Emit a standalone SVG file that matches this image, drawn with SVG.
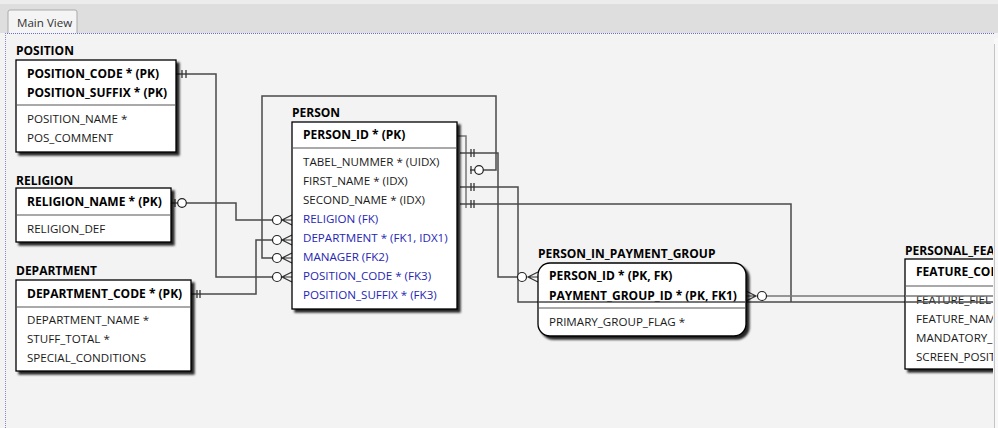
<svg xmlns="http://www.w3.org/2000/svg" width="998" height="428" viewBox="0 0 998 428">
<style>
text{font-family:"Open Sans","Noto Sans","DejaVu Sans",sans-serif;font-size:11.6px;fill:#1a1a1a}
.t{font-weight:bold;fill:#000;font-size:12px}
.k{font-weight:bold;fill:#000;font-size:12px}
.fk{fill:#2626b4}
.box{fill:#fff;stroke:#000;stroke-width:1.3}
.sep{stroke:#555;stroke-width:1.2}
.ln{fill:none;stroke:#4a4a4a;stroke-width:1.5}
.ln2{fill:none;stroke:#777;stroke-width:1.5}
.bar{stroke:#333;stroke-width:1.3}
.cir{fill:#fff;stroke:#222;stroke-width:1.2}
</style>
<defs>
<filter id="sh" x="-10%" y="-10%" width="130%" height="130%">
<feDropShadow dx="3" dy="3" stdDeviation="1.2" flood-color="#000" flood-opacity="0.85"/>
</filter>
<clipPath id="vis"><rect x="0" y="0" width="993" height="428"/></clipPath>
</defs>
<rect width="998" height="428" fill="#f3f3f3"/>
<rect width="998" height="33" fill="#dedede"/>
<rect width="998" height="4" fill="#ececec"/>
<path d="M8 33 V12 Q8 10 10 10 H75 Q77 10 77 12 V33" fill="#f4f4f4" stroke="#aaa"/>
<text x="17" y="27" style="fill:#333">Main View</text>
<line x1="5" y1="33.5" x2="995" y2="33.5" stroke="#6f6fc8" stroke-dasharray="1 1"/>
<line x1="5.5" y1="33" x2="5.5" y2="428" stroke="#8a8ab8" stroke-dasharray="1 1"/>
<rect x="994" y="38" width="4" height="390" fill="#f8f8f8"/>
<line x1="994.5" y1="44" x2="994.5" y2="428" stroke="#c4c4c4"/>

<g id="connectors">
<path class="ln" d="M176 74 H216 V277 H282"/>
<path class="ln" d="M171 203 H236 V220 H282"/>
<path class="ln" d="M191 294 H256 V240 H282"/>
<path class="ln" d="M470 170 H496 V96 H262 V258 H282"/>
<path class="ln2" d="M457 136 H466 V208"/>
<path class="ln" d="M460 153 H498 V277 H527"/>
<path class="ln" d="M460 187 H518 V302 H993"/>
<path class="ln" d="M460 204 H791 V302"/>
<path class="ln2" d="M766 296 H993"/>
<line class="bar" x1="182" y1="70" x2="182" y2="78"/><line class="bar" x1="186" y1="70" x2="186" y2="78"/>
<line class="bar" x1="175" y1="199" x2="175" y2="207"/><circle class="cir" cx="182" cy="203" r="4.3"/>
<line class="bar" x1="197" y1="290" x2="197" y2="298"/><line class="bar" x1="200" y1="290" x2="200" y2="298"/>
<line class="bar" x1="471" y1="149" x2="471" y2="157"/><line class="bar" x1="474" y1="149" x2="474" y2="157"/>
<line class="bar" x1="471" y1="166" x2="471" y2="174"/><circle class="cir" cx="479" cy="170" r="4.3"/>
<line class="bar" x1="471" y1="183" x2="471" y2="191"/><line class="bar" x1="474" y1="183" x2="474" y2="191"/>
<line class="bar" x1="471" y1="200" x2="471" y2="208"/><line class="bar" x1="474" y1="200" x2="474" y2="208"/>
<g fill="none" stroke="#333" stroke-width="1.2">
<circle class="cir" cx="277" cy="220" r="4.5"/><path d="M292 215 L282 220 L292 225 M282 220 H292"/>
<circle class="cir" cx="277" cy="240" r="4.5"/><path d="M292 235 L282 240 L292 245 M282 240 H292"/>
<circle class="cir" cx="277" cy="258" r="4.5"/><path d="M292 253 L282 258 L292 263 M282 258 H292"/>
<circle class="cir" cx="277" cy="277" r="4.5"/><path d="M292 272 L282 277 L292 282 M282 277 H292"/>
<circle class="cir" cx="522" cy="277" r="4.5"/><path d="M538 272 L528 277 L538 282 M528 277 H538"/>
<path d="M746 291 L756 296 L746 301 M746 296 H756"/><circle class="cir" cx="762" cy="296" r="4.5"/>
</g>
</g>

<g id="position">
<text class="t" x="16" y="55">POSITION</text>
<rect class="box" x="16" y="60" width="160" height="92" filter="url(#sh)"/>
<line class="sep" x1="16" y1="105" x2="176" y2="105"/>
<text class="k" x="27" y="78">POSITION_CODE * (PK)</text>
<text class="k" x="27" y="97">POSITION_SUFFIX * (PK)</text>
<text x="27" y="123">POSITION_NAME *</text>
<text x="27" y="142">POS_COMMENT</text>
</g>

<g id="religion">
<text class="t" x="16" y="185">RELIGION</text>
<rect class="box" x="16" y="188" width="155" height="54" filter="url(#sh)"/>
<line class="sep" x1="16" y1="215" x2="171" y2="215"/>
<text class="k" x="27" y="206">RELIGION_NAME * (PK)</text>
<text x="27" y="233">RELIGION_DEF</text>
</g>

<g id="department">
<text class="t" x="16" y="275">DEPARTMENT</text>
<rect class="box" x="16" y="280" width="175" height="91" filter="url(#sh)"/>
<line class="sep" x1="16" y1="307" x2="191" y2="307"/>
<text class="k" x="27" y="298">DEPARTMENT_CODE * (PK)</text>
<text x="27" y="324">DEPARTMENT_NAME *</text>
<text x="27" y="343">STUFF_TOTAL *</text>
<text x="27" y="362">SPECIAL_CONDITIONS</text>
</g>

<g id="person">
<text class="t" x="292" y="117">PERSON</text>
<rect class="box" x="292" y="122" width="165" height="187" filter="url(#sh)"/>
<line class="sep" x1="292" y1="148" x2="457" y2="148"/>
<text class="k" x="303" y="139">PERSON_ID * (PK)</text>
<text x="303" y="166">TABEL_NUMMER * (UIDX)</text>
<text x="303" y="185">FIRST_NAME * (IDX)</text>
<text x="303" y="204">SECOND_NAME * (IDX)</text>
<text class="fk" x="303" y="223">RELIGION (FK)</text>
<text class="fk" x="303" y="242">DEPARTMENT * (FK1, IDX1)</text>
<text class="fk" x="303" y="261">MANAGER (FK2)</text>
<text class="fk" x="303" y="280">POSITION_CODE * (FK3)</text>
<text class="fk" x="303" y="299">POSITION_SUFFIX * (FK3)</text>
</g>

<g id="person_in_payment_group">
<text class="t" x="538" y="258">PERSON_IN_PAYMENT_GROUP</text>
<rect class="box" x="538" y="263" width="208" height="73" rx="12" filter="url(#sh)"/>
<line class="sep" x1="538" y1="308" x2="746" y2="308"/>
<text class="k" x="549" y="280">PERSON_ID * (PK, FK)</text>
<text class="k" x="549" y="300">PAYMENT_GROUP_ID * (PK, FK1)</text>
<text x="549" y="326">PRIMARY_GROUP_FLAG *</text>
<path class="ln" d="M538 302 H746"/>
</g>

<g id="personal_feature" clip-path="url(#vis)">
<text class="t" x="905" y="255">PERSONAL_FEA</text>
<rect class="box" x="905" y="259" width="150" height="110" filter="url(#sh)"/>
<line class="sep" x1="905" y1="286" x2="1055" y2="286"/>
<text class="k" x="916" y="276">FEATURE_COD</text>
<text x="916" y="304">FEATURE_FIEL</text>
<text x="916" y="323">FEATURE_NAM</text>
<text x="916" y="342">MANDATORY_</text>
<text x="916" y="361">SCREEN_POSIT</text>
<path class="ln2" d="M905 296 H993"/>
<path class="ln" d="M905 302 H993"/>
</g>
</svg>
